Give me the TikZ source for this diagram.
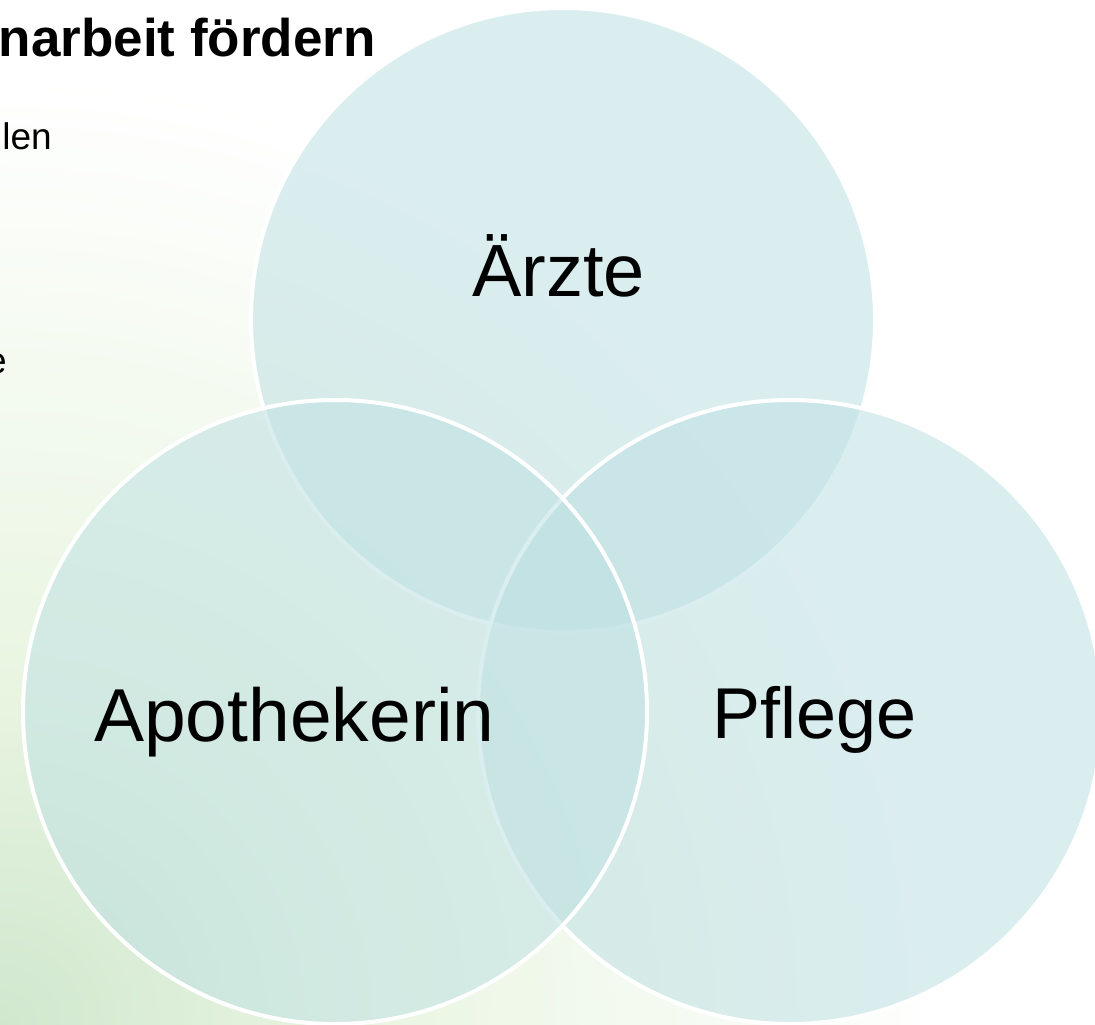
\documentclass[tikz,border=0pt]{standalone}
\usepackage{fontspec}
\setmainfont{Liberation Sans}

\definecolor{vennfill}{RGB}{190,224,227}
\definecolor{glowA}{RGB}{208,231,206}
\definecolor{glowB}{RGB}{233,245,225}
% the path's bounding box maps to the inner 25bp radius of the shading
\pgfdeclareradialshading{bgglow}{\pgfpoint{0bp}{0bp}}%
  {color(0bp)=(glowA); color(9bp)=(glowB); color(25bp)=(white); color(50bp)=(white)}

\tikzset{
  venn/.style={circle, minimum size=624pt, inner sep=0pt, outer sep=0pt,
    fill=vennfill, fill opacity=0.54, draw=white, draw opacity=1, line width=4pt},
  setlabel/.style={inner sep=0pt, anchor=base west},
  headline/.style={inner sep=0pt, font=\fontsize{53}{60}\selectfont\bfseries},
  bodytext/.style={inner sep=0pt, font=\fontsize{37}{42}\selectfont}
}

\begin{document}
\begin{tikzpicture}[x=1pt,y=-1pt]
  \useasboundingbox (0,0) rectangle (1095,1025);
  \fill[white] (0,0) rectangle (1095,1025);

  % soft green glow in the lower left corner
  \begin{scope}
    \clip (0,0) rectangle (1095,1025);
    \shade[shading=bgglow] (0,1025) circle (950);
  \end{scope}

  % slide text partly hidden behind the diagram
  \node[headline, anchor=base east] (title) at (376,57) {narbeit fördern};
  \node[bodytext, anchor=base east] (line1) at (52,149) {len};
  \node[bodytext, anchor=base east] (line2) at (7,373) {e};

  % the three overlapping sets
  \node[venn] (aerzte) at (563,320) {};
  \node[venn] (pflege) at (790,712) {};
  \node[venn] (apotheke) at (335,712) {};

  \node[setlabel, font=\fontsize{74}{80}\selectfont] (laerzte) at (472,296) {Ärzte};
  \node[setlabel, font=\fontsize{75}{80}\selectfont] (lapotheke) at (94,741) {Apothekerin};
  \node[setlabel, font=\fontsize{72}{80}\selectfont] (lpflege) at (712,738) {Pflege};
\end{tikzpicture}
\end{document}
